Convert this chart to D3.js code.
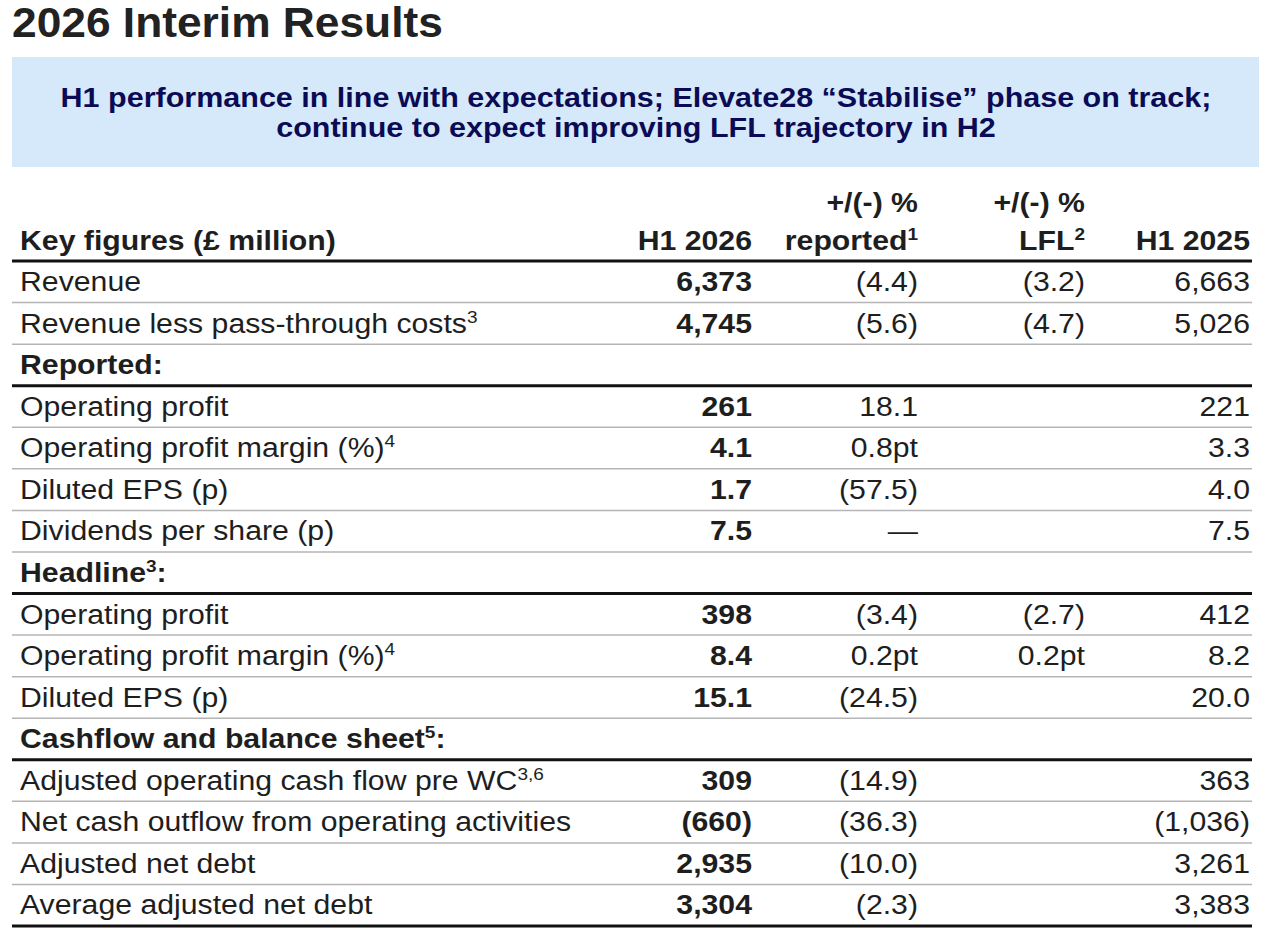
<!DOCTYPE html>
<html>
<head>
<meta charset="utf-8">
<script src="https://cdn.jsdelivr.net/npm/d3@7"></script>
<style>
  body { margin: 0; background: #fff; }
  svg { display: block; font-family: "Liberation Sans", Arial, Helvetica, sans-serif; }
</style>
</head>
<body>
<div id="chart"></div>
<script>
// row labels (text, superscript, trailing text)
var labelText = ["Revenue", "Revenue less pass-through costs", "Reported:", "Operating profit",
  "Operating profit margin (%)", "Diluted EPS (p)", "Dividends per share (p)", "Headline",
  "Operating profit", "Operating profit margin (%)", "Diluted EPS (p)", "Cashflow and balance sheet",
  "Adjusted operating cash flow pre WC", "Net cash outflow from operating activities",
  "Adjusted net debt", "Average adjusted net debt"];
var labelSup = ["", "3", "", "", "4", "", "", "3", "", "4", "", "5", "3,6", "", "", ""];
var labelTail = ["", "", "", "", "", "", "", ":", "", "", "", ":", "", "", "", ""];
// section header rows get the bold text and a heavy rule below
var isSection = [0, 0, 1, 0, 0, 0, 0, 1, 0, 0, 0, 1, 0, 0, 0, 0];

// series values as printed
var h12026 = ["6,373", "4,745", "", "261", "4.1", "1.7", "7.5", "", "398", "8.4", "15.1", "", "309", "(660)", "2,935", "3,304"];
var chgReported = ["(4.4)", "(5.6)", "", "18.1", "0.8pt", "(57.5)", "\u2014", "", "(3.4)", "0.2pt", "(24.5)", "", "(14.9)", "(36.3)", "(10.0)", "(2.3)"];
var chgLfl = ["(3.2)", "(4.7)", "", "", "", "", "", "", "(2.7)", "0.2pt", "", "", "", "", "", ""];
var h12025 = ["6,663", "5,026", "", "221", "3.3", "4.0", "7.5", "", "412", "8.2", "20.0", "", "363", "(1,036)", "3,261", "3,383"];

var columns = ["H1 2026", "reported", "LFL", "H1 2025"];

var width = 1280, height = 936;
var tableLeft = 12, tableRight = 1252;

var fontSize = 27;
var stretch = 1.12; // source glyphs are a little wider than Arial
var textColor = "#1e1e1e";

var svg = d3.select("#chart").append("svg")
  .attr("width", width)
  .attr("height", height);

// place a text at x,y and widen it horizontally around its anchor
function place(sel, x, y, sx) {
  return sel.attr("transform", "translate(" + x + "," + y + ") scale(" + sx + ",1)");
}

// title
place(svg.append("text"), 12, 37, 1.055)
  .attr("font-size", "42px")
  .attr("font-weight", "bold")
  .attr("fill", "#222")
  .text("2026 Interim Results");

// banner
svg.append("rect")
  .attr("x", 12).attr("y", 57)
  .attr("width", 1247).attr("height", 110)
  .attr("fill", "#d5e9fa");

var bannerLines = ["H1 performance in line with expectations; Elevate28 \u201cStabilise\u201d phase on track;",
  "continue to expect improving LFL trajectory in H2"];
svg.selectAll(".banner")
  .data(bannerLines)
  .join("text")
  .attr("class", "banner")
  .attr("transform", function (d, i) { return "translate(636," + (107 + i * 30) + ") scale(1.13,1)"; })
  .attr("text-anchor", "middle")
  .attr("font-size", "27px")
  .attr("font-weight", "bold")
  .attr("fill", "#0b0b55")
  .text(function (d) { return d; });

// scales
var y = d3.scaleBand()
  .domain(d3.range(labelText.length))
  .range([261, 926]);

// right edge of each numeric column
var x = d3.scaleOrdinal()
  .domain(columns)
  .range([752, 918, 1085, 1250]);

// header
var head = svg.append("g").attr("font-weight", "bold").attr("font-size", fontSize + "px").attr("fill", textColor);
place(head.append("text"), 20, 250, stretch).text("Key figures (\u00a3 million)");
place(head.append("text"), x("H1 2026"), 250, stretch).attr("text-anchor", "end").text("H1 2026");
place(head.append("text"), x("H1 2025"), 250, stretch).attr("text-anchor", "end").text("H1 2025");
place(head.append("text"), x("reported"), 212, stretch).attr("text-anchor", "end").text("+/(-) %");
place(head.append("text"), x("LFL"), 212, stretch).attr("text-anchor", "end").text("+/(-) %");

var rep = place(head.append("text"), x("reported"), 250, stretch).attr("text-anchor", "end");
rep.append("tspan").text("reported");
rep.append("tspan").attr("font-size", "17px").attr("dy", -10).text("1");
var lfl = place(head.append("text"), x("LFL"), 250, stretch).attr("text-anchor", "end");
lfl.append("tspan").text("LFL");
lfl.append("tspan").attr("font-size", "17px").attr("dy", -10).text("2");

// row rules
var rows = d3.range(labelText.length);
svg.selectAll(".rule")
  .data(rows)
  .join("line")
  .attr("class", "rule")
  .attr("x1", tableLeft).attr("x2", tableRight)
  .attr("y1", function (d) { return y(d) + y.bandwidth(); })
  .attr("y2", function (d) { return y(d) + y.bandwidth(); })
  .attr("stroke", function (d) { return (isSection[d] || d === rows.length - 1) ? "#111" : "#b5b5b5"; })
  .attr("stroke-width", function (d) { return (isSection[d] || d === rows.length - 1) ? 3 : 1.5; });

// top rule under header
svg.append("line")
  .attr("x1", tableLeft).attr("x2", tableRight)
  .attr("y1", y(0)).attr("y2", y(0))
  .attr("stroke", "#111").attr("stroke-width", 3);

// labels
var labels = svg.selectAll(".label")
  .data(rows)
  .join("text")
  .attr("class", "label")
  .attr("transform", function (d) { return "translate(20," + (y(d) + 30) + ") scale(" + stretch + ",1)"; })
  .attr("font-size", fontSize + "px")
  .attr("font-weight", function (d) { return isSection[d] ? "bold" : "normal"; })
  .attr("fill", textColor);

labels.append("tspan").text(function (d) { return labelText[d]; });
labels.append("tspan")
  .attr("font-size", "17px")
  .attr("dy", function (d) { return labelSup[d] ? -10 : 0; })
  .text(function (d) { return labelSup[d]; });
labels.append("tspan")
  .attr("dy", function (d) { return labelSup[d] ? 10 : 0; })
  .text(function (d) { return labelTail[d]; });

// value cells
var series = [
  { col: "H1 2026", values: h12026, bold: true },
  { col: "reported", values: chgReported, bold: false },
  { col: "LFL", values: chgLfl, bold: false },
  { col: "H1 2025", values: h12025, bold: false }
];

series.forEach(function (s) {
  svg.selectAll(".cell-" + columns.indexOf(s.col))
    .data(rows.filter(function (d) { return s.values[d] !== ""; }))
    .join("text")
    .attr("class", "cell-" + columns.indexOf(s.col))
    .attr("transform", function (d) { return "translate(" + x(s.col) + "," + (y(d) + 30) + ") scale(" + stretch + ",1)"; })
    .attr("text-anchor", "end")
    .attr("font-size", fontSize + "px")
    .attr("font-weight", s.bold ? "bold" : "normal")
    .attr("fill", textColor)
    .text(function (d) { return s.values[d]; });
});
</script>
</body>
</html>
